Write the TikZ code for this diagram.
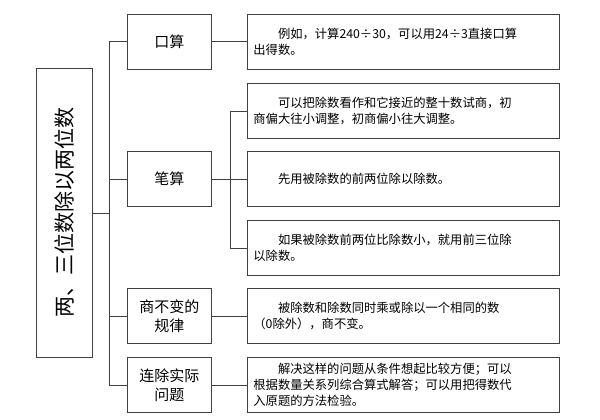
\documentclass[tikz,border=0pt]{standalone}
\usepackage{fontspec}
\newfontfamily\cjk{Noto Sans CJK SC}
\tikzset{topicbox/.style={draw=black!75,thick,minimum width=84pt,minimum height=55pt,anchor=north west,font=\cjk\fontsize{15}{19}\selectfont,align=center,inner sep=0pt}}
\tikzset{notebox/.style={draw=black!75,thick,minimum width=312pt,minimum height=55pt,anchor=north west,font=\cjk\fontsize{12.3}{16}\selectfont,align=left,text width=300pt,inner xsep=6pt}}
\tikzset{link/.style={draw=black!75,thick}}

\begin{document}
\begin{tikzpicture}[x=1pt,y=-1pt]
          \useasboundingbox (0,0) rectangle (600,420);

          % Titre
          \node [draw=black!75,thick,minimum width=56pt,minimum height=289pt,anchor=north west,inner sep=0pt] (main) at (36,68) {};
          \node [rotate=90,font=\cjk\fontsize{21}{24}\selectfont] (title) at (main.center) {两、三位数除以两位数};

          % Rubriques
          \node [topicbox] (kous) at (127,14) {口算};
          \node [topicbox] (bis) at (127,151) {笔算};
          \node [topicbox] (shang) at (127,288) {商不变的\\规律};
          \node [topicbox] (lian) at (127,357) {连除实际\\问题};

          % Explications
          \node [notebox] (n1) at (247,14) {\hspace*{2em}例如，计算240÷30，可以用24÷3直接口算\\出得数。};
          \node [notebox] (n2) at (247,83) {\hspace*{2em}可以把除数看作和它接近的整十数试商，初\\商偏大往小调整，初商偏小往大调整。};
          \node [notebox] (n3) at (247,151) {\hspace*{2em}先用被除数的前两位除以除数。};
          \node [notebox] (n4) at (247,220) {\hspace*{2em}如果被除数前两位比除数小，就用前三位除\\以除数。};
          \node [notebox] (n5) at (247,288) {\hspace*{2em}被除数和除数同时乘或除以一个相同的数\\（0除外），商不变。};
          \node [notebox] (n6) at (247,357) {\hspace*{2em}解决这样的问题从条件想起比较方便；可以\\根据数量关系列综合算式解答；可以用把得数代\\入原题的方法检验。};

          % Liens
          \coordinate (trunk) at (109,0);
          \coordinate (fork) at (230,0);
          \draw [link] (main.east) -- (main.east -| trunk);
          \draw [link] (kous.west -| trunk) -- (lian.west -| trunk);
          \foreach \t in {kous,bis,shang,lian}
              \draw [link] (\t.west -| trunk) -- (\t.west);
          \draw [link] (kous) -- (n1);
          \draw [link] (shang) -- (n5);
          \draw [link] (lian) -- (n6);
          \draw [link] (bis.east) -- (bis.east -| fork);
          \draw [link] (n2.west -| fork) -- (n4.west -| fork);
          \foreach \n in {n2,n3,n4}
              \draw [link] (\n.west -| fork) -- (\n.west);
          \end{tikzpicture}
\end{document}
